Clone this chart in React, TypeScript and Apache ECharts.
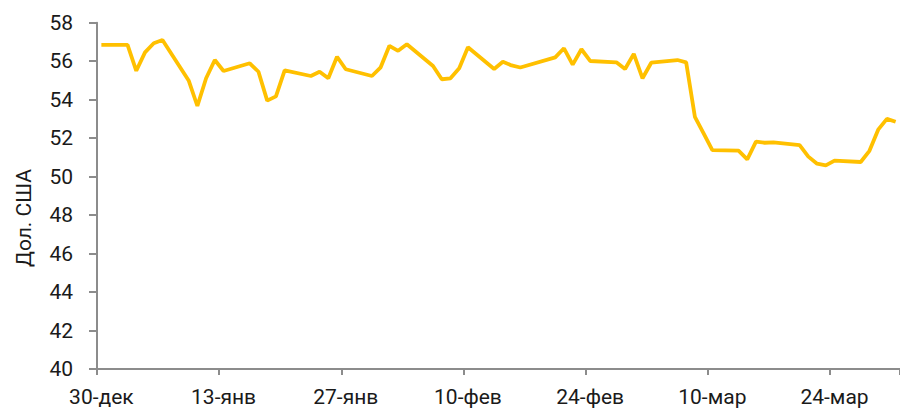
import React, { useEffect, useRef } from "react";
import * as echarts from "echarts";

// Axis tick labels (every 14 days)
const tickLabels = ["30-дек", "13-янв", "27-янв", "10-фев", "24-фев", "10-мар", "24-мар"];

// Calendar of the x axis: month names and days shown, starting 30 Dec
const months = ["дек", "янв", "фев", "мар"];
const monthStart = [30, 1, 1, 1];
const monthEnd = [31, 31, 28, 31];

// Daily price, USD (null = no quote, line is connected across)
const prices: (number | null)[] = [
  56.85, null, null, 56.85, 55.5, 56.46, 56.93, 57.1, null, null,
  55.0, 53.67, 55.11, 56.06, 55.49, null, null, 55.89, 55.45, 53.95,
  54.17, 55.52, null, null, 55.23, 55.45, 55.11, 56.23, 55.58, null,
  null, 55.23, 55.68, 56.8, 56.54, 56.88, null, null, 55.75, 55.06,
  55.11, 55.63, 56.72, null, null, 55.59, 55.97, 55.78, 55.67, null,
  null, null, 56.2, 56.67, 55.82, 56.62, 56.01, null, null, 55.94,
  55.59, 56.38, 55.11, 55.92, null, null, 56.06, 55.94, 53.11, 52.25,
  51.38, null, null, 51.35, 50.9, 51.82, 51.76, 51.78, null, null,
  51.64, 51.04, 50.67, 50.58, 50.83, null, null, 50.76, 51.34, 52.44,
  53.0, 52.85,
];

const yTitle = "Дол. США";

const FONT = "Roboto, 'Liberation Sans Narrow', sans-serif";

function buildCategories(): string[] {
  const out: string[] = [];
  for (let m = 0; m < months.length; m++) {
    for (let d = monthStart[m]; d <= monthEnd[m]; d++) {
      out.push(`${d}-${months[m]}`);
    }
  }
  return out;
}

export default function App() {
  const ref = useRef<HTMLDivElement>(null);

  useEffect(() => {
    if (!ref.current) return;
    const chart = echarts.init(ref.current, undefined, { renderer: "svg" });
    const categories = buildCategories().slice(0, prices.length);
    const axisColor = "#8c8c8c";
    chart.setOption({
      animation: false,
      backgroundColor: "#ffffff",
      grid: { left: 97, right: -6.4, top: 22.7, bottom: 43 },
      graphic: [
        {
          type: "text",
          x: 24,
          y: 218,
          rotation: Math.PI / 2,
          style: {
            text: yTitle,
            fontSize: 21,
            fontFamily: FONT,
            fill: "#1a1a1a",
            align: "center",
            verticalAlign: "middle",
          },
        },
      ],
      xAxis: {
        type: "category",
        data: categories,
        boundaryGap: true,
        axisLine: { lineStyle: { color: axisColor, width: 2 } },
        axisTick: { show: true, interval: 13, length: 6, lineStyle: { color: axisColor, width: 2 } },
        axisLabel: {
          interval: 13,
          margin: 17,
          fontSize: 21,
          fontFamily: FONT,
          color: "#1a1a1a",
          formatter: (v: string, i: number) => (i % 14 === 0 ? tickLabels[i / 14] ?? v : ""),
        },
        splitLine: { show: false },
      },
      yAxis: {
        type: "value",
        min: 40,
        max: 58,
        interval: 2,
        axisLine: { show: true, lineStyle: { color: axisColor, width: 2 } },
        axisTick: { show: true, length: 8, lineStyle: { color: axisColor, width: 2 } },
        axisLabel: { margin: 24, fontSize: 21, fontFamily: FONT, color: "#1a1a1a" },
        splitLine: { show: false },
      },
      series: [
        {
          type: "line",
          data: prices,
          connectNulls: true,
          symbol: "none",
          clip: false,
          lineStyle: { color: "#FFC000", width: 3.8 },
        },
      ],
    });
    return () => chart.dispose();
  }, []);

  return (
    <div
      ref={ref}
      style={{ position: "fixed", left: 0, top: 0, width: 900, height: 412, background: "#fff" }}
    />
  );
}
